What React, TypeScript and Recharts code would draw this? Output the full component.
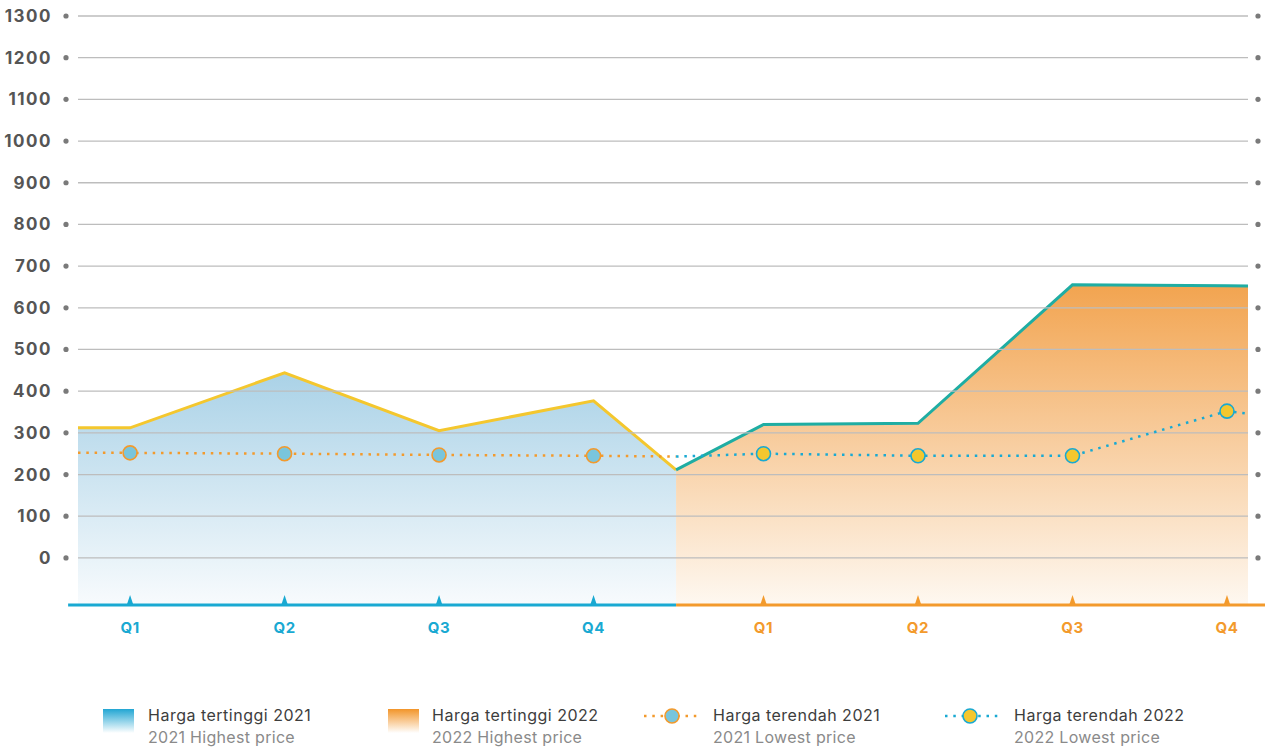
import React from 'react';
import { ComposedChart, Area, Line, XAxis, YAxis, ReferenceLine } from 'recharts';

// ---- data ----
const quarterLabels = ['Q1', 'Q2', 'Q3', 'Q4', 'Q1', 'Q2', 'Q3', 'Q4'];
const quarterPos = [0, 1, 2, 3, 4.1, 5.1, 6.1, 7.1];
const xStart = -0.337;
const xSplit = 3.534;
const xEnd = 7.236;
const yMin = -113;
const yMax = 1300;
const yTicks = [0, 100, 200, 300, 400, 500, 600, 700, 800, 900, 1000, 1100, 1200, 1300];

// values at: start, Q1..Q4 (2021), split
const high2021 = [312, 312, 444, 305, 377, 211];
const low2021 = [252, 252, 250, 247, 245, 243];
// values at: split, Q1..Q4 (2022), end
const high2022 = [211, 320, 323, 655, 653, 652];
const low2022 = [243, 250, 245, 245, 352, 346];

const BLUE = '#19a9d2';
const ORANGE = '#f39a2c';
const YELLOW = '#f4c72e';
const TEAL = '#1fada3';

const xs2021 = [xStart, ...quarterPos.slice(0, 4), xSplit];
const xs2022 = [xSplit, ...quarterPos.slice(4), xEnd];

type Row = { x: number; q?: boolean; h21?: number; l21?: number; h22?: number; l22?: number };
const rows: Row[] = [];
xs2021.forEach((x, i) => {
  rows.push({ x, q: i > 0 && i < 5, h21: high2021[i], l21: low2021[i] });
});
xs2022.forEach((x, i) => {
  if (i === 0) {
    const r = rows[rows.length - 1];
    r.h22 = high2022[0];
    r.l22 = low2022[0];
  } else {
    rows.push({ x, q: i < 5, h22: high2022[i], l22: low2022[i] });
  }
});

const FONT = 'Inter, "Noto Sans", sans-serif';

const makeDot = (fill: string, stroke: string) => (props: any) => {
  const { cx, cy, payload, index } = props;
  if (!payload || !payload.q || cx == null || cy == null) return <g key={`d-${index}`} />;
  return <circle key={`d-${index}`} cx={cx} cy={cy} r={7} fill={fill} stroke={stroke} strokeWidth={1.6} />;
};

const LeftTick = (props: any) => {
  const { x, y, payload } = props;
  return (
    <g>
      <text x={x - 26} y={y + 6} textAnchor="end" fontSize={17} fontWeight={700} fill="#555" letterSpacing={1.5} fontFamily={FONT}>
        {payload.value}
      </text>
      <circle cx={x - 12} cy={y} r={2.6} fill="#7a7a7a" />
    </g>
  );
};

const RightTick = (props: any) => {
  const { x, y } = props;
  return <circle cx={x + 10} cy={y} r={2.6} fill="#7a7a7a" />;
};

const BottomTick = (props: any) => {
  const { x, y, payload, index } = props;
  const c = payload.value > xSplit ? ORANGE : BLUE;
  return (
    <g>
      <path d={`M${x - 3},${y - 1} L${x},${y - 10} L${x + 3},${y - 1} Z`} fill={c} />
      <text x={x} y={y + 28} textAnchor="middle" fontSize={15} fontWeight={700} fill={c} letterSpacing={0.6} fontFamily={FONT}>
        {quarterLabels[index]}
      </text>
    </g>
  );
};

const T1 = { fontSize: 16, fill: '#3d3d3d', fontFamily: FONT, letterSpacing: 0.5 };
const T2 = { fontSize: 16, fill: '#8a8a8a', fontFamily: FONT, letterSpacing: 0.3 };

const Legend = () => (
  <svg width={1265} height={60} style={{ position: 'absolute', left: 0, top: 690 }}>
    <defs>
      <linearGradient id="lgBlue" x1="0" y1="0" x2="0" y2="1">
        <stop offset="0" stopColor="#22a6d3" />
        <stop offset="1" stopColor="#ffffff" />
      </linearGradient>
      <linearGradient id="lgOrange" x1="0" y1="0" x2="0" y2="1">
        <stop offset="0" stopColor="#f2952a" />
        <stop offset="1" stopColor="#ffffff" />
      </linearGradient>
    </defs>
    <rect x={103} y={19} width={31} height={24} fill="url(#lgBlue)" />
    <text x={148} y={31} {...T1}>Harga tertinggi 2021</text>
    <text x={148} y={53} {...T2}>2021 Highest price</text>

    <rect x={388} y={19} width={31} height={24} fill="url(#lgOrange)" />
    <text x={432} y={31} {...T1}>Harga tertinggi 2022</text>
    <text x={432} y={53} {...T2}>2022 Highest price</text>

    <line x1={644} y1={26} x2={701} y2={26} stroke={ORANGE} strokeWidth={2.5} strokeDasharray="2.5 5.8" />
    <circle cx={672} cy={26} r={7} fill="#79c5dc" stroke={ORANGE} strokeWidth={1.6} />
    <text x={713} y={31} {...T1}>Harga terendah 2021</text>
    <text x={713} y={53} {...T2}>2021 Lowest price</text>

    <line x1={945} y1={26} x2={1001} y2={26} stroke={BLUE} strokeWidth={2.5} strokeDasharray="2.5 5.8" />
    <circle cx={970} cy={26} r={7} fill={YELLOW} stroke={BLUE} strokeWidth={1.6} />
    <text x={1014} y={31} {...T1}>Harga terendah 2022</text>
    <text x={1014} y={53} {...T2}>2022 Lowest price</text>
  </svg>
);

export default function App() {
  return (
    <div style={{ position: 'absolute', left: 0, top: 0, width: 1265, height: 749, background: '#fff', fontFamily: FONT }}>
      <ComposedChart width={1265} height={749} data={rows} margin={{ top: 16, right: 0, bottom: 114, left: 0 }}>
        <defs>
          <linearGradient id="gBlue" x1="0" y1="0" x2="0" y2="1">
            <stop offset="0" stopColor="#aad2e7" />
            <stop offset="1" stopColor="#f8fbfd" />
          </linearGradient>
          <linearGradient id="gOrange" x1="0" y1="0" x2="0" y2="1">
            <stop offset="0" stopColor="#f2a450" />
            <stop offset="1" stopColor="#fef8f1" />
          </linearGradient>
        </defs>
        <XAxis
          dataKey="x"
          type="number"
          domain={[xStart, xEnd]}
          ticks={quarterPos}
          interval={0}
          allowDataOverflow
          axisLine={false}
          tickLine={false}
          tickSize={0}
          tickMargin={0}
          height={30}
          tick={<BottomTick />}
        />
        <YAxis
          yAxisId="left"
          type="number"
          domain={[yMin, yMax]}
          ticks={yTicks}
          interval={0}
          allowDataOverflow
          axisLine={false}
          tickLine={false}
          tickSize={0}
          tickMargin={0}
          width={78}
          tick={<LeftTick />}
        />
        <YAxis
          yAxisId="right"
          orientation="right"
          type="number"
          domain={[yMin, yMax]}
          ticks={yTicks}
          interval={0}
          allowDataOverflow
          axisLine={false}
          tickLine={false}
          tickSize={0}
          tickMargin={0}
          width={17}
          tick={<RightTick />}
        />
        <Area
          yAxisId="left"
          type="linear"
          dataKey="h21"
          baseValue={yMin}
          stroke={YELLOW}
          strokeWidth={3}
          fill="url(#gBlue)"
          fillOpacity={1}
          dot={false}
          activeDot={false}
          isAnimationActive={false}
        />
        <Area
          yAxisId="left"
          type="linear"
          dataKey="h22"
          baseValue={yMin}
          stroke={TEAL}
          strokeWidth={3}
          fill="url(#gOrange)"
          fillOpacity={1}
          dot={false}
          activeDot={false}
          isAnimationActive={false}
        />
        {yTicks.map((v) => (
          <ReferenceLine key={`g${v}`} yAxisId="left" y={v} stroke="#bdbdbd" strokeWidth={1.3} />
        ))}
        <ReferenceLine
          yAxisId="left"
          ifOverflow="visible"
          segment={[{ x: -0.401, y: yMin }, { x: xSplit, y: yMin }]}
          stroke={BLUE}
          strokeWidth={3}
        />
        <ReferenceLine
          yAxisId="left"
          ifOverflow="visible"
          segment={[{ x: xSplit, y: yMin }, { x: 7.346, y: yMin }]}
          stroke={ORANGE}
          strokeWidth={3}
        />
        <Line
          yAxisId="left"
          type="linear"
          dataKey="l21"
          stroke={ORANGE}
          strokeWidth={2.5}
          strokeDasharray="2.5 5.8"
          dot={makeDot('#79c5dc', ORANGE)}
          activeDot={false}
          isAnimationActive={false}
        />
        <Line
          yAxisId="left"
          type="linear"
          dataKey="l22"
          stroke={BLUE}
          strokeWidth={2.5}
          strokeDasharray="2.5 5.8"
          dot={makeDot(YELLOW, BLUE)}
          activeDot={false}
          isAnimationActive={false}
        />
      </ComposedChart>
      <Legend />
    </div>
  );
}
